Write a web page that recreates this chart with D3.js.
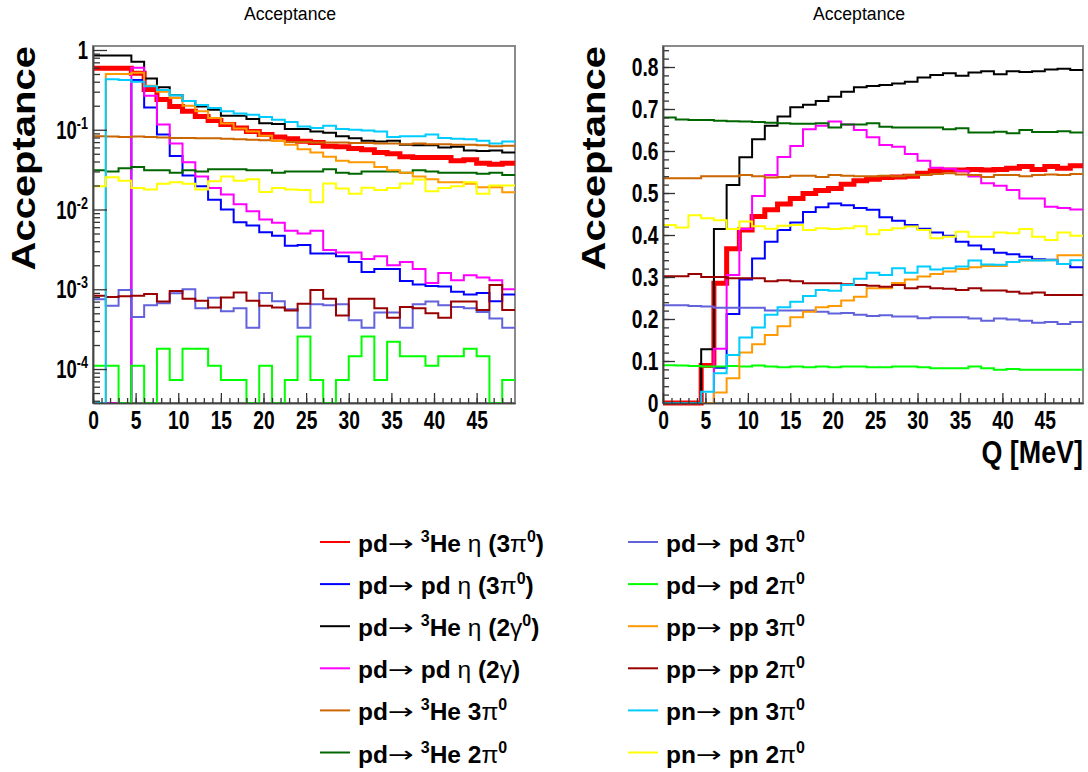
<!DOCTYPE html>
<html lang="en">
<head>
<meta charset="UTF-8">
<title>Acceptance</title>
<script src="https://cdn.jsdelivr.net/npm/d3@7"></script>
<style>
  body { margin: 0; background: #fff; }
  text { font-family: "Liberation Sans", Arial, Helvetica, sans-serif; }
</style>
</head>
<body>
<script>

// Q binning: 33 bins of 1.5 MeV, 0 .. 49.5
var qEdges = d3.range(0, 49.51, 1.5);

// tick labels
var qTicks = [0, 5, 10, 15, 20, 25, 30, 35, 40, 45];
var accTicks = [0, 0.1, 0.2, 0.3, 0.4, 0.5, 0.6, 0.7, 0.8];
var logTicks = [1, 0.1, 0.01, 0.001, 0.0001];

// legend entries (same order as the series below)
var labels = [
    "pd→ ^{3}He η (3π^{0})",
    "pd→ pd η (3π^{0})",
    "pd→ ^{3}He η (2γ^{0})",
    "pd→ pd η (2γ)",
    "pd→ ^{3}He 3π^{0}",
    "pd→ ^{3}He 2π^{0}",
    "pd→ pd 3π^{0}",
    "pd→ pd 2π^{0}",
    "pp→ pp 3π^{0}",
    "pp→ pp 2π^{0}",
    "pn→ pn 3π^{0}",
    "pn→ pn 2π^{0}"
];
var colors = ["#ff0000", "#0000ff", "#000000", "#ff00ff", "#cc6600", "#006600",
              "#6262dc", "#00ff00", "#ff9900", "#990000", "#00ccff", "#ffff00"];

// left panel (log scale), one value per bin
var logHe3Eta3pi = [0.59,0.59,0.59,0.51,0.32,0.24,0.195,0.17,0.147,0.131,0.116,0.105,0.095,0.087,0.081,0.077,0.072,0.069,0.062,0.061,0.058,0.056,0.052,0.050,0.046,0.045,0.045,0.045,0.041,0.042,0.038,0.037,0.038];
var logPdEta3pi  = [0,0,0,0.42,0.19,0.087,0.047,0.0266,0.0196,0.0133,0.0100,0.0069,0.0063,0.0052,0.0047,0.0035,0.0036,0.0028,0.0028,0.0026,0.0022,0.00165,0.0018,0.0018,0.00127,0.00115,0.0011,0.00108,0.00093,0.00086,0.0009,0.00071,0.00086];
var logHe3Eta2g  = [0.85,0.85,0.85,0.71,0.44,0.34,0.27,0.23,0.196,0.178,0.15,0.15,0.136,0.121,0.118,0.102,0.102,0.095,0.092,0.083,0.078,0.073,0.071,0.073,0.065,0.064,0.064,0.060,0.061,0.055,0.054,0.055,0.052];
var logPdEta2g   = [0,0,0,0.6,0.266,0.116,0.067,0.039,0.026,0.0186,0.0154,0.0116,0.0095,0.0075,0.0068,0.0054,0.0050,0.0054,0.0031,0.0029,0.0029,0.0024,0.0026,0.0020,0.0022,0.0018,0.0012,0.0016,0.0013,0.0015,0.0014,0.0013,0.0010];
var logHe3_3pi   = [0.083,0.082,0.081,0.082,0.081,0.080,0.079,0.079,0.078,0.078,0.077,0.076,0.075,0.074,0.073,0.070,0.070,0.069,0.069,0.069,0.068,0.068,0.067,0.067,0.066,0.067,0.066,0.066,0.065,0.065,0.064,0.062,0.063];
var logHe3_2pi   = [0.031,0.030,0.033,0.034,0.031,0.031,0.029,0.031,0.030,0.032,0.032,0.032,0.031,0.031,0.029,0.030,0.030,0.030,0.032,0.029,0.028,0.030,0.030,0.030,0.029,0.031,0.030,0.029,0.029,0.029,0.028,0.029,0.027];
var logPd3pi     = [0.00075,0.00062,0.00098,0.00045,0.00063,0.00067,0.00089,0.0010,0.00058,0.00078,0.00053,0.00058,0.00033,0.0009,0.00071,0.00056,0.00033,0.00065,0.00063,0.00065,0.00041,0.00033,0.00051,0.00051,0.00033,0.00065,0.0007,0.00063,0.0006,0.00058,0.00052,0.00043,0.00033];
var logPd2pi     = [1.1e-4,1.1e-4,0,1.1e-4,0,1.8e-4,7.3e-5,1.8e-4,1.8e-4,1.1e-4,7.3e-5,7.3e-5,0,1.1e-4,0,7.3e-5,2.55e-4,7.3e-5,0,7.3e-5,1.45e-4,2.55e-4,7.3e-5,2.2e-4,1.45e-4,1.45e-4,1.1e-4,1.45e-4,1.45e-4,1.8e-4,1.45e-4,0,7.3e-5];
var logPp3pi     = [0,0.50,0.50,0.52,0.355,0.30,0.25,0.20,0.17,0.14,0.12,0.104,0.095,0.084,0.073,0.065,0.057,0.052,0.046,0.041,0.039,0.039,0.034,0.031,0.029,0.026,0.024,0.022,0.022,0.021,0.019,0.019,0.0165];
var logPp2pi     = [0.00083,0.0008,0.00082,0.00083,0.00087,0.0007,0.00095,0.00076,0.00072,0.00059,0.00079,0.00091,0.00072,0.00062,0.00059,0.00054,0.00066,0.00098,0.00076,0.00047,0.00076,0.00076,0.00058,0.00044,0.0006,0.00058,0.0005,0.00044,0.0007,0.0007,0.00055,0.00113,0.00055];
var logPn3pi     = [0,0.43,0.42,0.40,0.35,0.316,0.27,0.23,0.205,0.187,0.17,0.16,0.154,0.144,0.133,0.125,0.11,0.105,0.112,0.102,0.1,0.098,0.095,0.081,0.083,0.083,0.087,0.079,0.077,0.076,0.073,0.067,0.071];
var logPn2pi     = [0.0196,0.0254,0.023,0.0186,0.0178,0.021,0.022,0.021,0.0178,0.0226,0.026,0.023,0.024,0.0166,0.0186,0.0178,0.0175,0.0123,0.0212,0.0183,0.0158,0.0188,0.0175,0.0186,0.0212,0.0237,0.017,0.0186,0.0196,0.022,0.0158,0.02,0.02];

// right panel (linear scale)
var linHe3Eta3pi = [0,0,0,0.089,0.285,0.367,0.412,0.444,0.460,0.474,0.487,0.499,0.506,0.511,0.521,0.529,0.533,0.537,0.538,0.540,0.547,0.553,0.555,0.555,0.556,0.555,0.556,0.559,0.563,0.556,0.563,0.559,0.565];
var linPdEta3pi  = [0,0,0,0,0.084,0.212,0.294,0.344,0.384,0.412,0.430,0.455,0.466,0.475,0.471,0.464,0.460,0.442,0.434,0.424,0.415,0.406,0.398,0.384,0.375,0.366,0.358,0.354,0.348,0.342,0.341,0.331,0.323];
var linHe3Eta2g  = [0,0,0,0.128,0.414,0.519,0.585,0.628,0.660,0.682,0.704,0.710,0.719,0.729,0.741,0.752,0.755,0.757,0.761,0.765,0.775,0.781,0.785,0.779,0.787,0.790,0.783,0.790,0.788,0.790,0.794,0.796,0.793];
var linPdEta2g   = [0,0,0,0,0.129,0.305,0.414,0.493,0.543,0.586,0.612,0.652,0.660,0.670,0.663,0.650,0.633,0.614,0.610,0.593,0.577,0.560,0.558,0.553,0.539,0.523,0.517,0.507,0.487,0.487,0.467,0.464,0.461];
var linHe3_3pi   = [0.535,0.535,0.535,0.540,0.540,0.540,0.543,0.540,0.537,0.538,0.541,0.541,0.538,0.543,0.541,0.540,0.540,0.541,0.540,0.542,0.543,0.545,0.547,0.544,0.543,0.538,0.543,0.543,0.540,0.543,0.544,0.543,0.545];
var linHe3_2pi   = [0.680,0.675,0.674,0.674,0.672,0.671,0.670,0.669,0.667,0.666,0.665,0.665,0.666,0.656,0.663,0.663,0.666,0.658,0.656,0.656,0.656,0.656,0.652,0.654,0.644,0.644,0.646,0.642,0.650,0.645,0.645,0.647,0.644];
var linPd3pi     = [0.233,0.233,0.231,0.230,0.227,0.227,0.227,0.227,0.220,0.220,0.220,0.220,0.217,0.213,0.214,0.210,0.207,0.209,0.206,0.206,0.202,0.204,0.204,0.204,0.201,0.196,0.201,0.199,0.196,0.191,0.193,0.188,0.193];
var linPd2pi     = [0.090,0.089,0.088,0.087,0.087,0.088,0.087,0.089,0.087,0.085,0.087,0.085,0.087,0.085,0.087,0.087,0.085,0.085,0.087,0.087,0.085,0.083,0.083,0.083,0.087,0.083,0.079,0.081,0.079,0.079,0.079,0.079,0.079];
var linPp3pi     = [0,0,0,0,0.025,0.059,0.120,0.140,0.162,0.183,0.204,0.217,0.228,0.231,0.244,0.253,0.273,0.273,0.286,0.294,0.301,0.307,0.313,0.319,0.323,0.326,0.326,0.336,0.339,0.340,0.340,0.352,0.352];
var linPp2pi     = [0.302,0.302,0.307,0.300,0.300,0.297,0.297,0.297,0.290,0.292,0.290,0.285,0.285,0.285,0.283,0.281,0.279,0.277,0.281,0.273,0.277,0.273,0.272,0.269,0.273,0.268,0.268,0.265,0.261,0.263,0.257,0.257,0.257];
var linPn3pi     = [0,0,0,0.027,0.071,0.114,0.156,0.180,0.210,0.228,0.241,0.255,0.269,0.267,0.281,0.296,0.310,0.305,0.321,0.310,0.325,0.318,0.321,0.325,0.339,0.330,0.329,0.336,0.340,0.339,0.340,0.331,0.340];
var linPn2pi     = [0.424,0.418,0.447,0.440,0.435,0.414,0.432,0.421,0.415,0.422,0.424,0.412,0.416,0.414,0.416,0.421,0.402,0.412,0.416,0.420,0.412,0.392,0.396,0.408,0.396,0.396,0.406,0.404,0.414,0.396,0.388,0.406,0.398];

var leftSeries = [logHe3Eta3pi, logPdEta3pi, logHe3Eta2g, logPdEta2g, logHe3_3pi, logHe3_2pi,
                  logPd3pi, logPd2pi, logPp3pi, logPp2pi, logPn3pi, logPn2pi];
var rightSeries = [linHe3Eta3pi, linPdEta3pi, linHe3Eta2g, linPdEta2g, linHe3_3pi, linHe3_2pi,
                   linPd3pi, linPd2pi, linPp3pi, linPp2pi, linPn3pi, linPn2pi];
</script>

<script>
    var width = 1088, height = 772;
    var plotTop = 46, plotBottom = 403;
    var font = '"Liberation Sans", Arial, Helvetica, sans-serif';

    var svg = d3.select("body").append("svg")
        .attr("width", width)
        .attr("height", height);

    // x scales of the two pads
    var xLeft = d3.scaleLinear().domain([0, 49.5]).range([93, 515]);
    var xRight = d3.scaleLinear().domain([0, 49.5]).range([663, 1083]);

    // y scales
    var yLog = d3.scaleLog().domain([3.75e-5, 1.122]).range([plotBottom, plotTop]);
    var yLin = d3.scaleLinear().domain([0, 0.85]).range([plotBottom, plotTop]);

    // 画框
    function drawFrame(x) {
        svg.append("rect")
            .attr("x", x.range()[0])
            .attr("y", plotTop)
            .attr("width", x.range()[1] - x.range()[0])
            .attr("height", plotBottom - plotTop)
            .attr("fill", "none")
            .attr("stroke", "#8a8a8a")
            .attr("stroke-width", 2);
    }

    function styleAxis(g) {
        g.select(".domain").attr("stroke", "#444").attr("stroke-width", 1.5);
        g.selectAll(".tick line").attr("stroke", "#333").attr("stroke-width", 1.3);
    }

    // x 轴 (刻度向内)
    function drawXAxis(x) {
        var minor = svg.append("g")
            .attr("transform", "translate(0," + plotBottom + ")")
            .call(d3.axisBottom(x).tickValues(d3.range(0, 49.5, 1))
                .tickSizeInner(-5).tickSizeOuter(0).tickFormat(""));
        styleAxis(minor);

        var major = svg.append("g")
            .attr("transform", "translate(0," + plotBottom + ")")
            .call(d3.axisBottom(x).tickValues(qTicks)
                .tickSizeInner(-10).tickSizeOuter(0).tickPadding(8));
        styleAxis(major);
        major.selectAll("text")
            .attr("transform", "scale(0.74,1)")
            .style("font-family", font)
            .style("font-size", "26px")
            .style("font-weight", "bold")
            .attr("fill", "#000");
    }

    // 直方图折线
    function drawHist(x, y, series, isLog) {
        var line = d3.line()
            .curve(d3.curveStepAfter)
            .x(function (d) { return x(d[0]); })
            .y(function (d) {
                if (isLog && d[1] < y.domain()[0]) return plotBottom;
                return y(d[1]);
            });

        series.forEach(function (vals, k) {
            var pts = vals.map(function (v, i) { return [qEdges[i], v]; });
            pts.push([qEdges[vals.length], vals[vals.length - 1]]);
            svg.append("path")
                .attr("d", line(pts))
                .attr("fill", "none")
                .attr("stroke", colors[k])
                .attr("stroke-width", k === 0 ? 5 : 2)
                .attr("stroke-linejoin", "miter")
                .attr("stroke-linecap", "butt");
        });
    }

    function drawTitles(cx, axisX) {
        svg.append("text")
            .attr("transform", "translate(" + cx + ",20) scale(0.93,1)")
            .attr("text-anchor", "middle")
            .style("font-size", "19px")
            .text("Acceptance");

        svg.append("text")
            .attr("transform", "translate(" + axisX + "," + plotTop + ") scale(0.84,1) rotate(-90)")
            .attr("text-anchor", "end")
            .style("font-size", "40px")
            .style("font-weight", "bold")
            .text("Acceptance");
    }

    // ---------- 左图: 对数坐标 ----------
    drawFrame(xLeft);
    drawHist(xLeft, yLog, leftSeries, true);

    var logMinor = [];
    [-5, -4, -3, -2, -1, 0].forEach(function (e) {
        for (var k = 2; k <= 9; k++) {
            var v = k * Math.pow(10, e);
            if (v > yLog.domain()[0] && v < yLog.domain()[1]) logMinor.push(v);
        }
    });
    var lMinor = svg.append("g")
        .attr("transform", "translate(" + xLeft.range()[0] + ",0)")
        .call(d3.axisLeft(yLog).tickValues(logMinor).tickSizeInner(-7).tickSizeOuter(0).tickFormat(""));
    styleAxis(lMinor);
    var lMajor = svg.append("g")
        .attr("transform", "translate(" + xLeft.range()[0] + ",0)")
        .call(d3.axisLeft(yLog).tickValues(logTicks).tickSizeInner(-14).tickSizeOuter(0).tickFormat(""));
    styleAxis(lMajor);

    logTicks.forEach(function (v) {
        var t = svg.append("text")
            .attr("transform", "translate(88," + (yLog(v) + 9) + ") scale(0.74,1)")
            .attr("text-anchor", "end")
            .style("font-size", "25px")
            .style("font-weight", "bold");
        if (v === 1) {
            t.text("1");
        } else {
            t.append("tspan").text("10");
            t.append("tspan")
                .attr("dy", -10)
                .style("font-size", "17px")
                .text("-" + Math.round(-Math.log10(v)));
        }
    });

    drawXAxis(xLeft);
    drawTitles(290, 35);

    // ---------- 右图: 线性坐标 ----------
    drawFrame(xRight);
    drawHist(xRight, yLin, rightSeries, false);

    var rMinor = svg.append("g")
        .attr("transform", "translate(" + xRight.range()[0] + ",0)")
        .call(d3.axisLeft(yLin).tickValues(d3.range(0, 0.85, 0.02))
            .tickSizeInner(-6).tickSizeOuter(0).tickFormat(""));
    styleAxis(rMinor);
    var rMajor = svg.append("g")
        .attr("transform", "translate(" + xRight.range()[0] + ",0)")
        .call(d3.axisLeft(yLin).tickValues(accTicks)
            .tickSizeInner(-12).tickSizeOuter(0).tickPadding(6)
            .tickFormat(function (d) { return d === 0 ? "0" : d3.format(".1f")(d); }));
    styleAxis(rMajor);
    rMajor.selectAll("text")
        .attr("transform", "scale(0.74,1)")
        .style("font-family", font)
        .style("font-size", "26px")
        .style("font-weight", "bold")
        .attr("fill", "#000");

    drawXAxis(xRight);
    drawTitles(859, 605);

    svg.append("text")
        .attr("transform", "translate(1083,463) scale(0.84,1)")
        .attr("text-anchor", "end")
        .style("font-size", "32px")
        .style("font-weight", "bold")
        .text("Q [MeV]");

    // ---------- 图例 ----------
    var symbols = "→ηπγ";
    function richLabel(t, str) {
        var re = /\^\{([^}]*)\}|[→ηπγ]|[^\^→ηπγ]+/g;
        var m, shift = 0;
        while ((m = re.exec(str)) !== null) {
            var sp = t.append("tspan");
            if (m[1] !== undefined) {
                sp.attr("dy", -10 - shift).style("font-size", "16px").text(m[1]);
                shift = -10;
            } else {
                if (shift !== 0) { sp.attr("dy", -shift); shift = 0; }
                if (m[0] === "→") {
                    // long thin arrow as in the symbol font
                    sp.style("font-family", '"DejaVu Sans", sans-serif')
                        .style("font-weight", "normal")
                        .style("font-size", "22px")
                        .attr("dy", -1)
                        .attr("textLength", 26)
                        .attr("lengthAdjust", "spacingAndGlyphs");
                    shift = -1;
                } else if (symbols.indexOf(m[0]) >= 0) {
                    sp.style("font-weight", "normal");
                }
                sp.text(m[0]);
            }
        }
    }

    var legendRows = d3.range(6);
    labels.forEach(function (lab, k) {
        var col = k < 6 ? 0 : 1;
        var row = legendRows[k % 6];
        var ly = 542 + row * 42.1;
        var lx = col === 0 ? 320 : 628;
        svg.append("line")
            .attr("x1", lx).attr("x2", lx + 30)
            .attr("y1", ly).attr("y2", ly)
            .attr("stroke", colors[k])
            .attr("stroke-width", 2);
        var t = svg.append("text")
            .attr("x", lx + 38)
            .attr("y", ly + 10)
            .style("font-size", "24.5px")
            .style("font-weight", "bold");
        richLabel(t, lab);
    });
</script>
</body>
</html>
